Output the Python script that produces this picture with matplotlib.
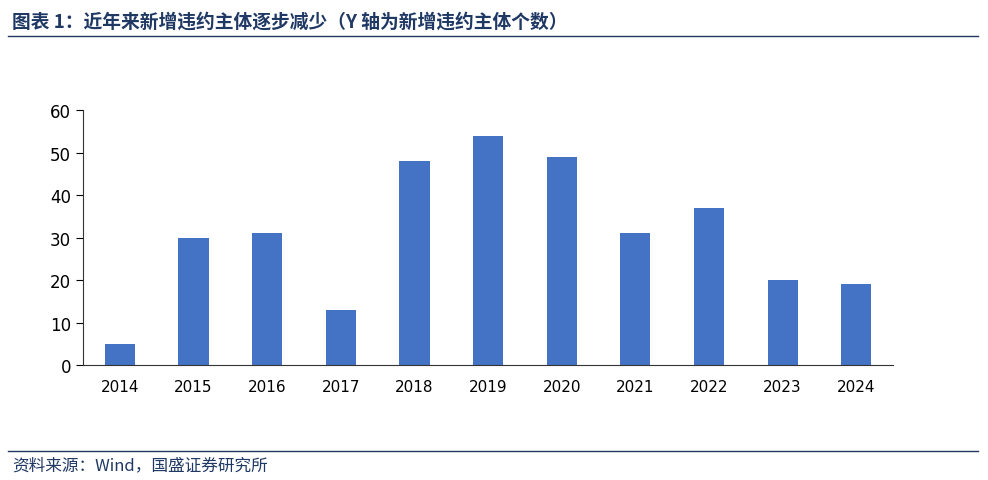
import matplotlib
matplotlib.use("Agg")
import matplotlib.pyplot as plt
from matplotlib.lines import Line2D

years = ["2014","2015","2016","2017","2018","2019","2020","2021","2022","2023","2024"]
counts = [5,30,31,13,48,54,49,31,37,20,19]
yticks = [0,10,20,30,40,50,60]

plt.rcParams["font.family"] = ["DejaVu Sans", "Noto Sans CJK SC"]
fig = plt.figure(figsize=(9.88,4.81), dpi=100)
ax = fig.add_axes([0.084,0.239,0.82,0.53])
ax.bar(range(len(years)), counts, width=0.41, color="#4472C4")
ax.set_xlim(-0.5, len(years)-0.5)
ax.set_ylim(0,60)
ax.set_yticks(yticks)
ax.set_xticks(range(len(years)))
ax.set_xticklabels(years, fontsize=11)
ax.tick_params(axis="y", labelsize=12, length=5, direction="out")
ax.tick_params(axis="x", length=0, pad=10)
for s in ["top","right"]:
    ax.spines[s].set_visible(False)
ax.spines["left"].set_color("#333333")
ax.spines["bottom"].set_color("#333333")

navy = "#1F3864"
fig.text(0.012,0.955,"图表 1：近年来新增违约主体逐步减少（Y 轴为新增违约主体个数）",
         fontsize=13.5, color=navy, fontweight="bold", style="italic",
         family="Noto Sans CJK SC", va="center")
fig.add_artist(Line2D([0.008,0.99],[0.923,0.923], color=navy, lw=1))
fig.add_artist(Line2D([0.008,0.99],[0.06+0.002+0.0,0.06], color=navy, lw=0.8, alpha=0))
fig.add_artist(Line2D([0.008,0.99],[0.06,0.06], color=navy, lw=0))
fig.add_artist(Line2D([0.008,0.99],[0.059,0.059], color=navy, lw=0))
fig.add_artist(Line2D([0.008,0.99],[1-452/481,1-452/481], color=navy, lw=1))
fig.text(0.012,1-466/481,"资料来源：Wind，国盛证券研究所", fontsize=12, color=navy,
         style="italic", family="Noto Sans CJK SC", va="center")
fig.savefig("out.png", dpi=100)
